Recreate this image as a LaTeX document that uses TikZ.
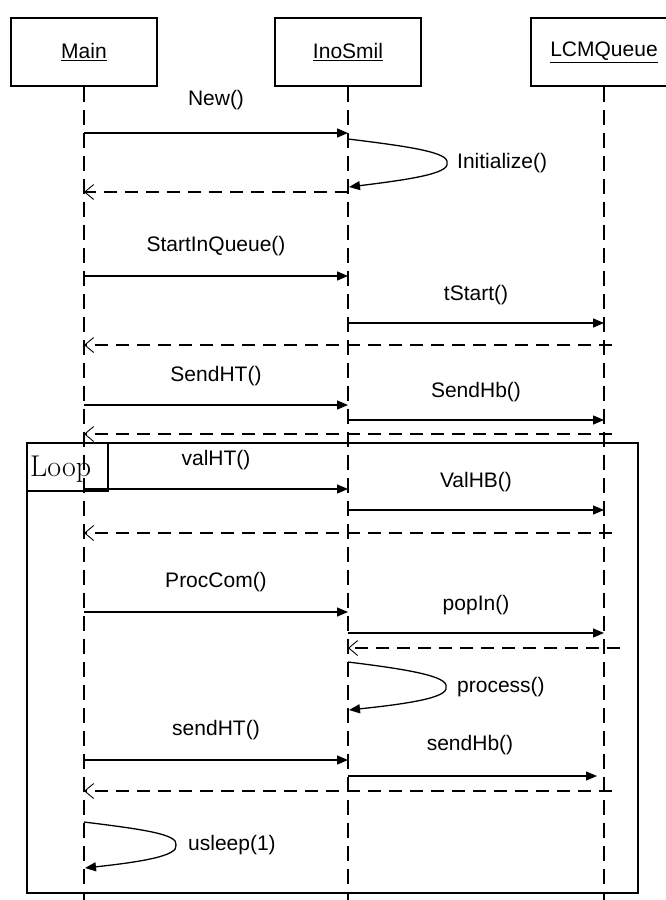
\documentclass[tikz,border=0pt]{standalone}
\usepackage{fontspec}
\setsansfont{Liberation Sans}
\usetikzlibrary{arrows.meta}
\begin{document}
\begin{tikzpicture}[x=1pt,y=-1pt,
  objbox/.style={draw, line width=1.4pt, minimum width=146pt, minimum height=68pt, inner sep=0pt,
    font=\sffamily\fontsize{21}{23}\selectfont},
  lifeline/.style={line width=1.4pt, dash pattern=on 15pt off 8pt},
  lbl/.style={font=\sffamily\fontsize{21}{23}\selectfont, inner sep=0pt},
  msg/.style={line width=1.3pt, -{Triangle[length=11pt,width=9pt]}},
  ret/.style={line width=1.3pt, dash pattern=on 13pt off 8pt, -{Straight Barb[length=9pt,width=15pt,line width=0.9pt]}},
  selfmsg/.style={line width=1.3pt, -{Triangle[length=11pt,width=9pt]}},
  frame/.style={line width=2pt}
]
\useasboundingbox (0,0) rectangle (665,900);
\fill[white] (0,0) rectangle (665,900);

% objects
\node[objbox] (main) at (84,52) {\underline{Main}};
\node[objbox] (ino) at (348,52) {\underline{InoSmil}};
\node[objbox] (lcm) at (604,52) {\underline{LCMQueue}};

% lifelines
\coordinate (mend) at (84,900);
\coordinate (iend) at (348,900);
\coordinate (lend) at (604,900);
\draw[lifeline] (main.south) -- (mend);
\draw[lifeline] (ino.south) -- (iend);
\draw[lifeline] (lcm.south) -- (lend);

% loop frame
\draw[frame] (27,443) rectangle (638,893);
\draw[line width=1.4pt] (27,443) rectangle (108,491);
\node[anchor=base west, inner sep=0pt, font=\fontsize{30}{32}\selectfont] (looplbl) at (30,476) {Loop};

% New()
\coordinate (m1) at (84,133); \coordinate (i1) at (348,133);
\draw[msg] (m1) -- (i1);
\node[lbl] (lnew) at (216,100) {New()};
% Initialize()
\coordinate (i2a) at (348,139); \coordinate (i2b) at (349,187); \coordinate (i2c) at (447,163);
\draw[selfmsg] (i2a) .. controls (405,146) and (450,152) .. (i2c) .. controls (450,174) and (405,180) .. (i2b);
\node[lbl, anchor=west] (linit) at (457,163) {Initialize()};
% return
\coordinate (i3) at (348,192); \coordinate (m3) at (84,192);
\draw[ret] (i3) -- (m3);

% StartInQueue()
\coordinate (m4) at (84,276); \coordinate (i4) at (348,276);
\draw[msg] (m4) -- (i4);
\node[lbl] (lsiq) at (216,246) {StartInQueue()};
% tStart()
\coordinate (i5) at (348,323); \coordinate (l5) at (604,323);
\draw[msg] (i5) -- (l5);
\node[lbl] (ltst) at (476,295) {tStart()};
% return
\coordinate (l6) at (612,345); \coordinate (m6) at (84,345);
\draw[ret] (l6) -- (m6);

% SendHT()
\coordinate (m7) at (84,405); \coordinate (i7) at (348,405);
\draw[msg] (m7) -- (i7);
\node[lbl] (lsht) at (216,376) {SendHT()};
% SendHb()
\coordinate (i8) at (348,420); \coordinate (l8) at (604,420);
\draw[msg] (i8) -- (l8);
\node[lbl] (lshb) at (476,392) {SendHb()};
% return
\coordinate (l9) at (612,434); \coordinate (m9) at (84,434);
\draw[ret] (l9) -- (m9);

% valHT()
\coordinate (m10) at (84,489); \coordinate (i10) at (348,489);
\draw[msg] (m10) -- (i10);
\node[lbl] (lvht) at (216,460) {valHT()};
% ValHB()
\coordinate (i11) at (348,510); \coordinate (l11) at (604,510);
\draw[msg] (i11) -- (l11);
\node[lbl] (lvhb) at (476,482) {ValHB()};
% return
\coordinate (l12) at (612,533); \coordinate (m12) at (84,533);
\draw[ret] (l12) -- (m12);

% ProcCom()
\coordinate (m13) at (84,612); \coordinate (i13) at (348,612);
\draw[msg] (m13) -- (i13);
\node[lbl] (lpc) at (216,582) {ProcCom()};
% popIn()
\coordinate (i14) at (348,633); \coordinate (l14) at (604,633);
\draw[msg] (i14) -- (l14);
\node[lbl] (lpop) at (476,605) {popIn()};
% return to InoSmil
\coordinate (l15) at (620,648); \coordinate (i15) at (348,648);
\draw[ret] (l15) -- (i15);
% process()
\coordinate (i16a) at (348,662); \coordinate (i16b) at (349,710); \coordinate (i16c) at (446,687);
\draw[selfmsg] (i16a) .. controls (405,669) and (449,676) .. (i16c) .. controls (449,698) and (405,704) .. (i16b);
\node[lbl, anchor=west] (lproc) at (457,687) {process()};

% sendHT()
\coordinate (m17) at (84,760); \coordinate (i17) at (348,760);
\draw[msg] (m17) -- (i17);
\node[lbl] (lsht2) at (216,730) {sendHT()};
% sendHb()
\coordinate (i18) at (348,776); \coordinate (l18) at (597,776);
\draw[msg] (i18) -- (l18);
\node[lbl] (lshb2) at (470,745) {sendHb()};
% return
\coordinate (l19) at (612,791); \coordinate (m19) at (84,791);
\draw[ret] (l19) -- (m19);

% usleep(1)
\coordinate (m20a) at (84,822); \coordinate (m20b) at (85,868); \coordinate (m20c) at (176,845);
\draw[selfmsg] (m20a) .. controls (140,829) and (179,834) .. (m20c) .. controls (179,856) and (140,862) .. (m20b);
\node[lbl, anchor=west] (lus) at (188,845) {usleep(1)};
\end{tikzpicture}
\end{document}
